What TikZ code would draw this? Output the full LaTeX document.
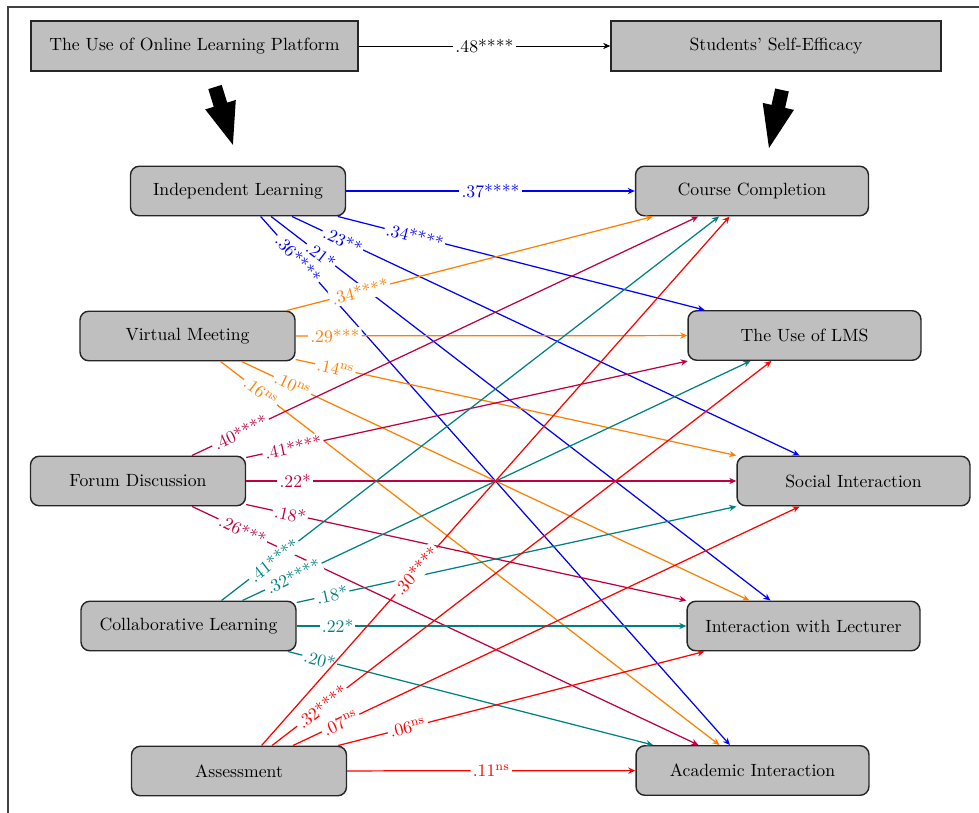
\documentclass[tikz,border=0pt]{standalone}
\usetikzlibrary{arrows.meta}
\begin{document}
\begin{tikzpicture}[x=0.565pt,y=-0.565pt,
  basebox/.style={draw=black!85, line width=0.8pt, fill=gray!50, minimum height=28pt, inner sep=2pt},
  lbox/.style={basebox, rounded corners=5pt, minimum width=121.5pt},
  rbox/.style={basebox, rounded corners=5pt, minimum width=131.6pt},
  tbox/.style={basebox, minimum height=28.2pt},
  lab/.style={fill=white, inner sep=1.2pt, sloped},
  conn/.style={line width=0.7pt, -{Stealth[length=4pt,width=3.5pt]}},
  bigarrow/.style={fill=black, draw=none}
]
\useasboundingbox (0,0) rectangle (979,813);
% frame
\draw[black!75, line width=0.6pt] (8,813) -- (8,7) -- (979,7);

% top nodes
\node[tbox, minimum width=184.8pt] (OLP) at (194.5,46) {The Use of Online Learning Platform};
\node[tbox, minimum width=186.5pt] (SSE) at (776,46) {Students' Self-Efficacy};
\draw[line width=0.5pt, -{Stealth[length=4pt,width=3.5pt]}] (OLP) -- node[fill=white, inner sep=1.5pt] {.48****} (SSE);

% big arrows
\fill[bigarrow] (208.3,89.1) -- (221.7,84.9) -- (227.2,102.6) -- (235.8,100.0) -- (232.9,144.8) -- (205.2,109.4) -- (213.8,106.8) -- cycle;
\fill[bigarrow] (775.2,88.5) -- (788.8,91.5) -- (785.1,107.9) -- (793.9,109.9) -- (769,148) -- (762.7,102.9) -- (771.5,104.9) -- cycle;

% left nodes
\node[lbox] (IL) at (238,191) {Independent Learning};
\node[lbox] (VM) at (187.5,336) {Virtual Meeting};
\node[lbox] (FD) at (138,481) {Forum Discussion};
\node[lbox] (CL) at (188.5,626) {Collaborative Learning};
\node[lbox] (AS) at (239,771) {Assessment};

% right nodes
\node[rbox] (CC) at (752,191) {Course Completion};
\node[rbox] (LMS) at (804.5,335.5) {The Use of LMS};
\node[rbox] (SI) at (853.5,481) {Social Interaction};
\node[rbox] (IWL) at (803.5,626) {Interaction with Lecturer};
\node[rbox] (AI) at (752.5,770.5) {Academic Interaction};

% Independent Learning (blue)
\begin{scope}[blue]
\draw[conn] (IL) -- node[lab, pos=0.5] {.37****} (CC);
\draw[conn] (IL) -- node[lab, pos=0.21] {.34****} (LMS);
\draw[conn] (IL) -- node[lab, pos=0.10] {.23**} (SI);
\draw[conn] (IL) -- node[lab, pos=0.10] {.21*} (IWL);
\draw[conn] (IL) -- node[lab, pos=0.08] {.36****} (AI);
\end{scope}

% Virtual Meeting (orange)
\begin{scope}[orange]
\draw[conn] (VM) -- node[lab, pos=0.2] {.34****} (CC);
\draw[conn] (VM) -- node[lab, pos=0.1] {.29***} (LMS);
\draw[conn] (VM) -- node[lab, pos=0.09] {.14\textsuperscript{ns}} (SI);
\draw[conn] (VM) -- node[lab, pos=0.10] {.10\textsuperscript{ns}} (IWL);
\draw[conn] (VM) -- node[lab, pos=0.08] {.16\textsuperscript{ns}} (AI);
\end{scope}

% Forum Discussion (purple)
\begin{scope}[purple]
\draw[conn] (FD) -- node[lab, pos=0.096] {.40****} (CC);
\draw[conn] (FD) -- node[lab, pos=0.106] {.41****} (LMS);
\draw[conn] (FD) -- node[lab, pos=0.10] {.22*} (SI);
\draw[conn] (FD) -- node[lab, pos=0.10] {.18*} (IWL);
\draw[conn] (FD) -- node[lab, pos=0.10] {.26***} (AI);
\end{scope}

% Collaborative Learning (teal)
\begin{scope}[teal]
\draw[conn] (CL) -- node[lab, pos=0.105] {.41****} (CC);
\draw[conn] (CL) -- node[lab, pos=0.10] {.32****} (LMS);
\draw[conn] (CL) -- node[lab, pos=0.08] {.18*} (SI);
\draw[conn] (CL) -- node[lab, pos=0.105] {.22*} (IWL);
\draw[conn] (CL) -- node[lab, pos=0.087] {.20*} (AI);
\end{scope}

% Assessment (red)
\begin{scope}[red]
\draw[conn] (AS) -- node[lab, pos=0.33] {.30****} (CC);
\draw[conn] (AS) -- node[lab, pos=0.10] {.32****} (LMS);
\draw[conn] (AS) -- node[lab, pos=0.094] {.07\textsuperscript{ns}} (SI);
\draw[conn] (AS) -- node[lab, pos=0.19] {.06\textsuperscript{ns}} (IWL);
\draw[conn] (AS) -- node[lab, pos=0.5] {.11\textsuperscript{ns}} (AI);
\end{scope}
\end{tikzpicture}
\end{document}
